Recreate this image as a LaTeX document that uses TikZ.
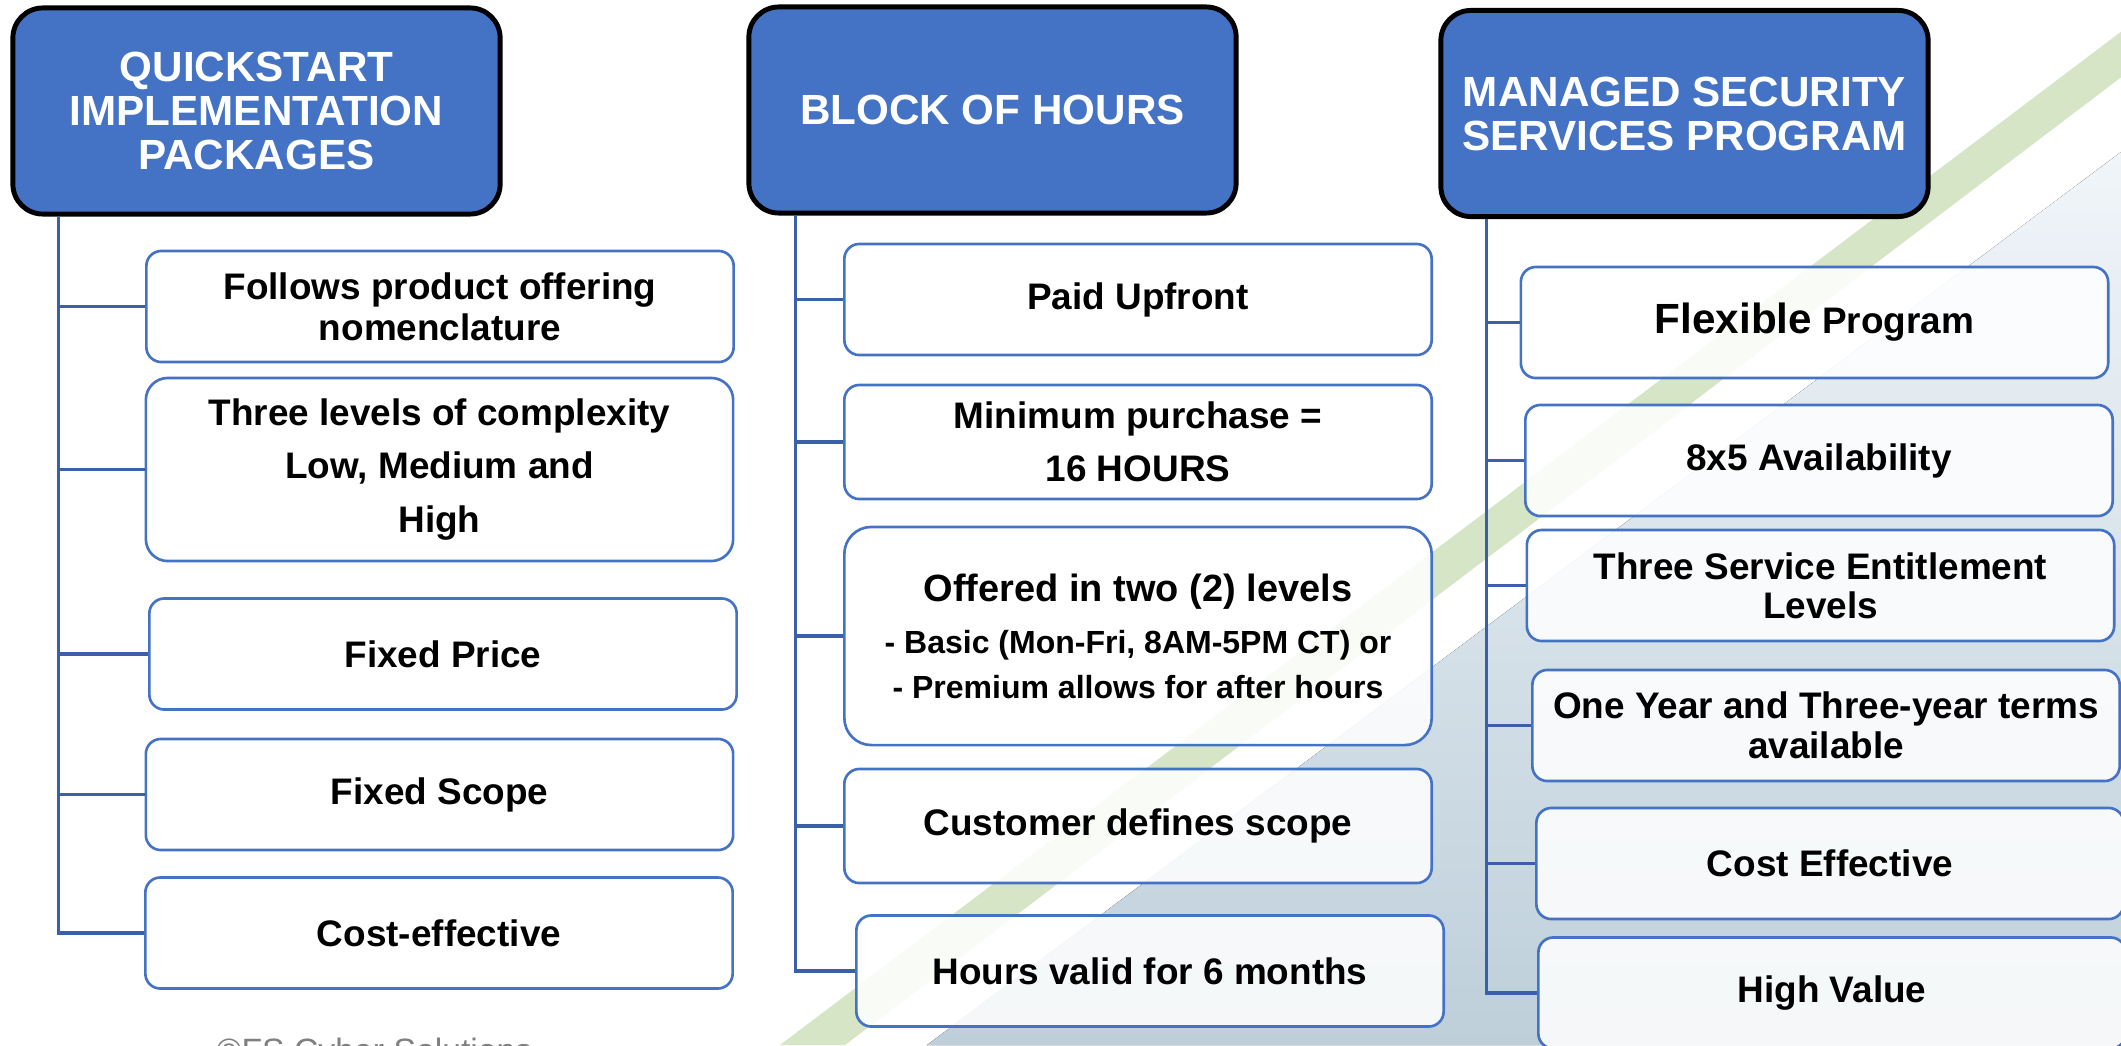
\documentclass[tikz,border=0pt]{standalone}
\usepackage{fontspec}
\setmainfont{Liberation Sans}
\usetikzlibrary{positioning}
\definecolor{MSblue}{RGB}{68,114,196}
\definecolor{MSline}{RGB}{58,96,170}
\definecolor{MSgreen}{RGB}{213,229,198}
\definecolor{MSmistTop}{RGB}{240,245,249}
\definecolor{MSmistBot}{RGB}{190,207,218}
\definecolor{MSgrey}{RGB}{128,128,128}
\tikzset{
  headbox/.style={draw=black, line width=1.4pt, fill=MSblue, text=white,
    rounded corners=0.3cm, align=center, inner sep=0pt,
    minimum width=4.87cm, minimum height=2.06cm,
    font=\bfseries\fontsize{12}{12.5}\selectfont},
  itembox/.style={draw=MSblue, line width=0.75pt, fill=white, fill opacity=0.85,
    text opacity=1, rounded corners=0.15cm, align=center, inner sep=0pt,
    minimum width=5.87cm, minimum height=1.11cm,
    font=\bfseries\fontsize{10.5}{11.7}\selectfont},
  link/.style={draw=MSline, line width=0.9pt}
}

\begin{document}
\begin{tikzpicture}[x=0.01cm, y=-0.01cm]
  \useasboundingbox (0,0) rectangle (2121,1045);
  \clip (0,0) rectangle (2121,1045);
  % Backdrop
  \fill[white] (0,0) rectangle (2121,1045);
  \fill[MSgreen] (780,1045) -- (2163,0) -- (2223,0) -- (845,1045) -- cycle;
  \fill[top color=MSmistTop, bottom color=MSmistBot] (927,1045) -- (2121,152) -- (2121,1045) -- cycle;
  \node[anchor=base west, inner sep=0pt, text=MSgrey, font=\fontsize{9.6}{10}\selectfont] (copy) at (216,1062) {©FS Cyber Solutions};

  % Quickstart column
  \node[headbox] (h1) at (256.5,111) {QUICKSTART\\IMPLEMENTATION\\PACKAGES};
  \node[itembox] (l1) at (440,306.5) {Follows product offering\\nomenclature};
  \node[itembox, minimum height=1.83cm, rounded corners=0.22cm,
        font=\bfseries\fontsize{10.5}{15.1}\selectfont] (l2) at (439.5,469.5)
        {Three levels of complexity\\Low, Medium and\\High};
  \node[itembox] (l3) at (443,654) {Fixed Price};
  \node[itembox] (l4) at (439.5,794.5) {Fixed Scope};
  \node[itembox] (l5) at (439,933) {Cost-effective};

  % Block of hours column
  \node[headbox] (h2) at (992.5,110) {BLOCK OF HOURS};
  \node[itembox] (m1) at (1138,299.5) {Paid Upfront};
  \node[itembox, minimum height=1.14cm,
        font=\bfseries\fontsize{10.5}{15.1}\selectfont] (m2) at (1138,442)
        {Minimum purchase =\\16 HOURS};
  \node[itembox, minimum height=2.18cm, rounded corners=0.27cm,
        font=\bfseries\fontsize{9.1}{12.8}\selectfont] (m3) at (1138,636)
        {{\fontsize{10.8}{14.8}\selectfont Offered in two (2) levels}\\[2pt]
         - Basic (Mon-Fri, 8AM-5PM CT) or\\- Premium allows for after hours};
  \node[itembox, minimum height=1.14cm] (m4) at (1138,826) {Customer defines scope};
  \node[itembox] (m5) at (1150,971) {Hours valid for 6 months};

  % Managed security column
  \node[headbox] (h3) at (1684.5,113.5) {MANAGED SECURITY\\SERVICES PROGRAM};
  \node[itembox] (r1) at (1814.5,322.5) {{\fontsize{12}{12}\selectfont Flexible} Program};
  \node[itembox] (r2) at (1819,460.5) {8x5 Availability};
  \node[itembox, font=\bfseries\fontsize{10.5}{11.1}\selectfont] (r3) at (1820.5,585.5)
        {Three Service Entitlement\\Levels};
  \node[itembox, font=\bfseries\fontsize{10.5}{11.4}\selectfont] (r4) at (1826,725.5)
        {One Year and Three-year terms\\available};
  \node[itembox] (r5) at (1830,863.5) {Cost Effective};
  \node[itembox] (r6) at (1832,993) {High Value};

  % Trunks and branches
  \coordinate (t1) at ([xshift=0.48cm]h1.south west);
  \coordinate (t2) at ([xshift=0.49cm]h2.south west);
  \coordinate (t3) at ([xshift=0.48cm]h3.south west);
  \draw[link] (t1) |- (l5.west);
  \foreach \b in {l1,l2,l3,l4} \draw[link] (t1 |- \b.west) -- (\b.west);
  \draw[link] (t2) |- (m5.west);
  \foreach \b in {m1,m2,m3,m4} \draw[link] (t2 |- \b.west) -- (\b.west);
  \draw[link] (t3) |- (r6.west);
  \foreach \b in {r1,r2,r3,r4,r5} \draw[link] (t3 |- \b.west) -- (\b.west);
\end{tikzpicture}
\end{document}
